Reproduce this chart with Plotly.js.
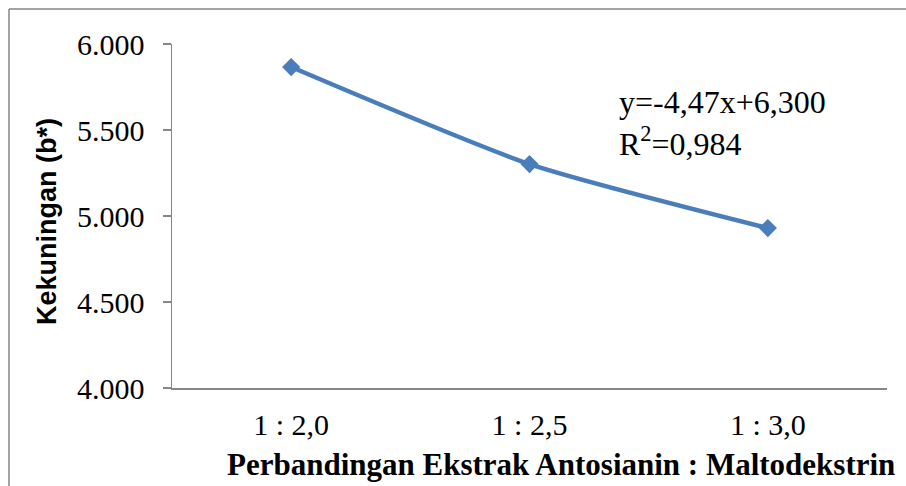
<!DOCTYPE html>
<html>
<head>
<meta charset="utf-8">
<script src="https://cdn.plot.ly/plotly-3.0.1.min.js"></script>
<style>html,body{margin:0;padding:0;background:#fff;}#chart{width:906px;height:486px;}</style>
</head>
<body>
<div id="chart"></div>
<script>
const categories = ["1 : 2,0", "1 : 2,5", "1 : 3,0"];
const kekuningan = [5.866, 5.302, 4.930];
const yTickValues = [4.0, 4.5, 5.0, 5.5, 6.0];
const yTickLabels = ["4.000", "4.500", "5.000", "5.500", "6.000"];
const equationText = "y=-4,47x+6,300<br>R<sup>2</sup>=0,984";
const xTitle = "Perbandingan Ekstrak Antosianin : Maltodekstrin";
const yTitle = "Kekuningan (b*)";

const serif = "Liberation Serif, Times New Roman, serif";
const axisGray = "#868686";

const trace = {
  x: categories,
  y: kekuningan,
  type: "scatter",
  mode: "lines+markers",
  line: {color: "#4A7EBB", width: 4.5, shape: "spline", smoothing: 0.6},
  marker: {symbol: "diamond", size: 14, color: "#4A7EBB"},
  hoverinfo: "skip"
};

const layout = {
  width: 906,
  height: 486,
  margin: {l: 172, r: 19, t: 44, b: 98},
  paper_bgcolor: "#ffffff",
  plot_bgcolor: "#ffffff",
  showlegend: false,
  xaxis: {
    type: "category",
    range: [-0.5, 2.5],
    showgrid: false,
    zeroline: false,
    showline: true,
    linecolor: axisGray,
    linewidth: 1.5,
    ticks: "",
    ticklabelstandoff: 9,
    tickfont: {family: serif, size: 30, color: "#000"}
  },
  yaxis: {
    range: [4.0, 6.0],
    tickvals: yTickValues,
    ticktext: yTickLabels,
    showgrid: false,
    zeroline: false,
    showline: true,
    linecolor: axisGray,
    linewidth: 1.5,
    ticks: "outside",
    ticklen: 8,
    tickcolor: axisGray,
    tickwidth: 1.5,
    ticklabelstandoff: 12,
    tickfont: {family: serif, size: 30, color: "#000"}
  },
  annotations: [
    {
      xref: "paper", yref: "paper",
      x: (561 - 172) / 715, y: (388 - 464) / 344,
      xanchor: "center", yanchor: "middle",
      text: "<b>" + xTitle + "</b>",
      showarrow: false,
      font: {family: serif, size: 31, color: "#000"}
    },
    {
      xref: "paper", yref: "paper",
      x: (47 - 172) / 715, y: (388 - 222) / 344,
      xanchor: "center", yanchor: "middle",
      textangle: -90,
      text: "<b>" + yTitle + "</b>",
      showarrow: false,
      font: {family: "Liberation Sans, Arial, sans-serif", size: 27, color: "#000"}
    },
    {
      xref: "paper", yref: "paper",
      x: (617 - 172) / 715, y: (388 - 123) / 344,
      xanchor: "left", yanchor: "middle",
      align: "left",
      text: equationText,
      showarrow: false,
      font: {family: serif, size: 32, color: "#000"}
    }
  ],
  shapes: [
    {type: "line", xref: "paper", yref: "paper",
     x0: (9 - 172) / 715, x1: (906 - 172) / 715, y0: (388 - 9) / 344, y1: (388 - 9) / 344,
     line: {color: axisGray, width: 1.5}},
    {type: "line", xref: "paper", yref: "paper",
     x0: (9 - 172) / 715, x1: (9 - 172) / 715, y0: (388 - 9) / 344, y1: (388 - 490) / 344,
     line: {color: axisGray, width: 1.5}}
  ]
};

Plotly.newPlot("chart", [trace], layout, {staticPlot: true, displayModeBar: false});
</script>
</body>
</html>
